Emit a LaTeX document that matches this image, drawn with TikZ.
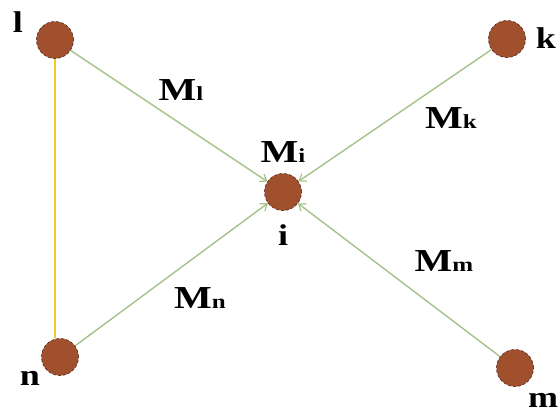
\documentclass[tikz,border=0pt]{standalone}
\usepackage{fontspec}
\usepackage{graphicx}
\setmainfont{Liberation Serif}
\usetikzlibrary{arrows.meta}
\definecolor{ballfill}{RGB}{160,80,45}
\definecolor{balledge}{RGB}{80,40,25}
\definecolor{linegreen}{RGB}{165,195,135}
\definecolor{lineyellow}{RGB}{240,200,40}
\tikzset{
  ball/.style={circle,fill=ballfill,draw=balledge,densely dashed,line width=0.6pt,minimum size=37pt,inner sep=0pt},
  glink/.style={draw=linegreen,line width=1.4pt,-{Straight Barb[length=6pt,width=9pt,line width=1.2pt]}},
  ylink/.style={draw=lineyellow,line width=2pt},
  vlabel/.style={font=\bfseries\fontsize{30}{32}\selectfont,inner sep=0pt},
  mlabel/.style={font=\bfseries,inner sep=0pt}
}
\newcommand{\vlab}[1]{\scalebox{1.2}[1]{#1}}
\newcommand{\mlab}[1]{\scalebox{1.25}[1]{{\fontsize{32}{34}\selectfont M}{\fontsize{20}{22}\selectfont #1}}}
\begin{document}
\begin{tikzpicture}[x=1pt,y=-1pt]
\useasboundingbox[fill=white] (0,0) rectangle (560,420);
\node[ball] (l) at (55,40) {};
\node[ball] (k) at (507,39) {};
\node[ball] (i) at (283,192) {};
\node[ball] (n) at (60,357) {};
\node[ball] (m) at (515,368) {};
\draw[ylink] (l.south) -- (l.south |- n.north);
\draw[glink] (l) -- (i);
\draw[glink] (k) -- (i);
\draw[glink] (n) -- (i);
\draw[glink] (m) -- (i);
\node[vlabel] (tl) at (18,22) {\vlab{l}};
\node[vlabel] (tk) at (546,38) {\vlab{k}};
\node[vlabel] (tn) at (30,378) {\vlab{n}};
\node[vlabel] (tm) at (543,400) {\vlab{m}};
\node[vlabel] (ti) at (283,235) {\vlab{i}};
\node[mlabel] (Mi) at (283,152) {\mlab{i}};
\node[mlabel] (Ml) at (181,90) {\mlab{l}};
\node[mlabel] (Mk) at (451,118) {\mlab{k}};
\node[mlabel] (Mn) at (200,298) {\mlab{n}};
\node[mlabel] (Mm) at (444,261) {\mlab{m}};
\end{tikzpicture}
\end{document}
